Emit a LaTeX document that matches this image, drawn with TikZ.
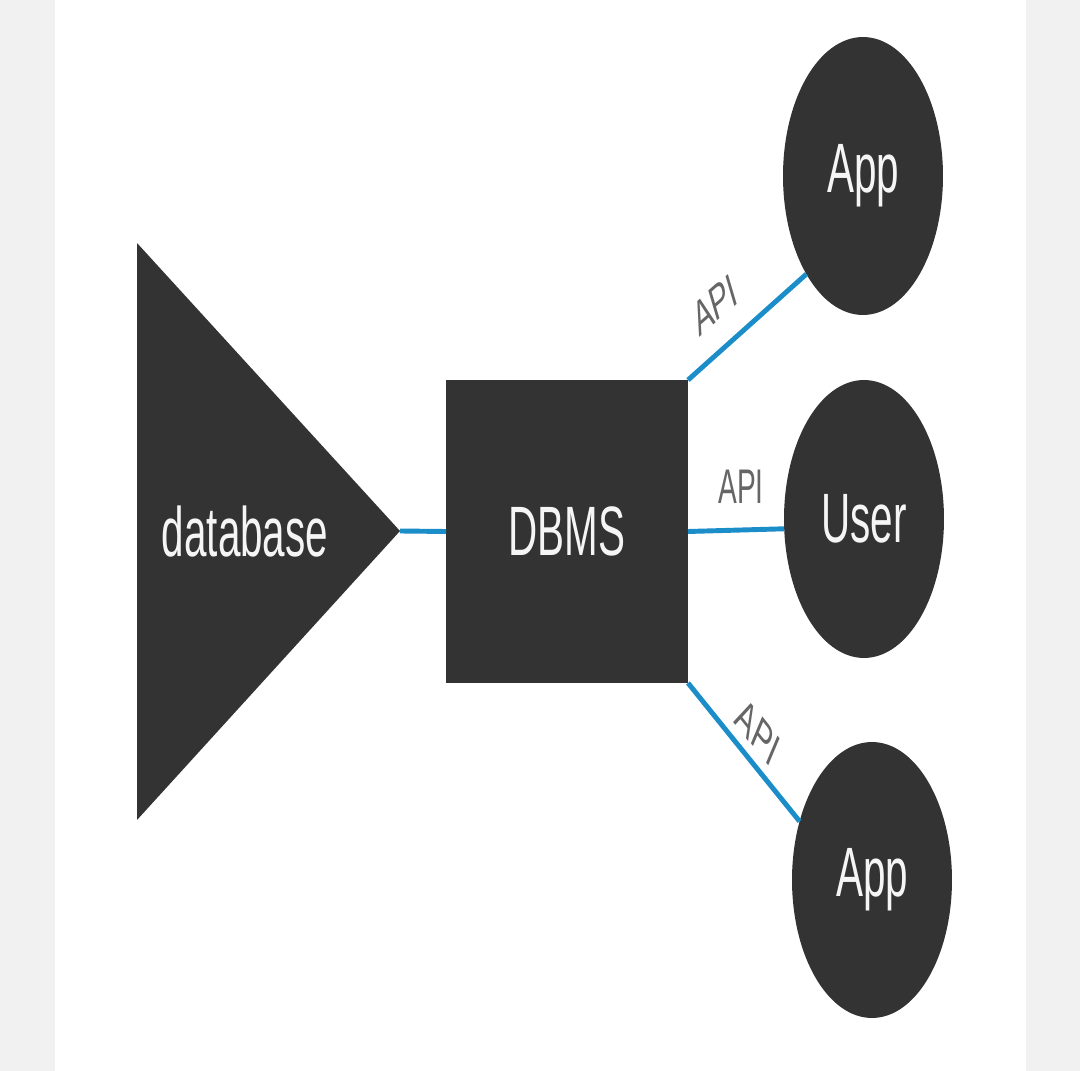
\documentclass[tikz,border=0pt]{standalone}
\usepackage{fontspec}
\setmainfont{Liberation Sans}
\usepackage{tikz}
\usetikzlibrary{shapes.geometric}
\usepackage{xcolor}
\definecolor{ublue}{RGB}{27,141,200}
\definecolor{ushape}{RGB}{51,51,51}
\definecolor{umargin}{RGB}{241,241,241}
\newcommand{\tall}[1]{\scalebox{1}[1.73]{#1}}

\begin{document}
\begin{tikzpicture}[x=0.02cm, y=-0.02cm,
	box/.style={fill=ushape, draw=none, text=white!96!black, font=\fontsize{23}{28}\selectfont, inner sep=0, outer sep=0},
	link/.style={ublue, line width=2.8pt},
	api/.style={text=black!60, font=\fontsize{16}{19}\selectfont, inner sep=0}]
	\fill[umargin] (0,0) rectangle (1080,1071);
	\fill[white] (55,0) rectangle (1026,1071);
	\useasboundingbox (0,0) rectangle (1080,1071);
	
	\fill[ushape] (137,243) -- (400,531) -- (137,820) -- cycle;
	\coordinate (tip) at (400,531);
	\node[box, fill=none] (db) at (245,532) {\tall{database}};
	
	\node[box, minimum width=4.84cm, minimum height=6.06cm] (dbms) at (567,531.5) {\tall{DBMS}};
	
	\node[box, ellipse, minimum width=3.2cm, minimum height=5.56cm] (app1) at (863,176) {\tall{App}};
	\node[box, ellipse, minimum width=3.2cm, minimum height=5.56cm] (user) at (864,519) {\tall{User}};
	\node[box, ellipse, minimum width=3.2cm, minimum height=5.52cm] (app2) at (872,880) {\tall{App}};
	
	\draw[link] (tip) -- (dbms.west);
	\draw[link] (dbms.north east) -- (app1.240);
	\draw[link] (dbms.east) -- (user.187);
	\draw[link] (dbms.south east) -- (app2.141);
	
	\node[api] (api1) at (715,305) {\tall{\rotatebox{27}{API}}};
	\node[api] (api2) at (741,487) {\tall{API}};
	\node[api] (api3) at (758,732) {\tall{\rotatebox{-36}{API}}};
	
\end{tikzpicture}
\end{document}
